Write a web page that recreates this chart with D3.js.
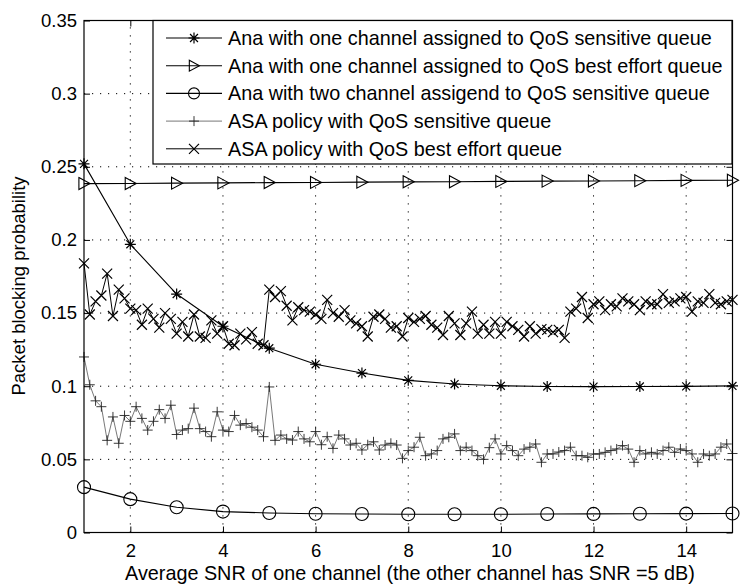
<!DOCTYPE html>
<html>
<head>
<meta charset="utf-8">
<script src="https://cdn.jsdelivr.net/npm/d3@7"></script>
<style>
  body { margin: 0; background: #fff; }
  text { font-family: "Liberation Sans", Arial, Helvetica, sans-serif; fill: #000; }
</style>
</head>
<body>
<svg id="chart" width="740" height="585"></svg>
<script>
// ---- Analytic results, one value per integer SNR (dB) ----
const snrAnalytic = [1, 2, 3, 4, 5, 6, 7, 8, 9, 10, 11, 12, 13, 14, 15];
const anaOneSensitive = [0.252, 0.197, 0.163, 0.141, 0.126, 0.115, 0.109, 0.104, 0.1015, 0.1003, 0.0998, 0.0997, 0.0998, 0.0999, 0.1002];
const anaOneBestEffort = [0.2385, 0.2386, 0.2388, 0.2390, 0.2392, 0.2393, 0.2395, 0.2397, 0.2398, 0.2400, 0.2402, 0.2403, 0.2405, 0.2407, 0.2408];
const anaTwoSensitive = [0.031, 0.0228, 0.0173, 0.0143, 0.0133, 0.0128, 0.0126, 0.0125, 0.0125, 0.0125, 0.0126, 0.0127, 0.0128, 0.0129, 0.013];

// ---- Simulated ASA policy, SNR from 1 dB in steps of 0.125 dB ----
const asaStart = 1;
const asaStep = 0.125;
const asaSensitive = [
  0.120, 0.101, 0.090, 0.086, 0.063, 0.079, 0.061, 0.080,
  0.076, 0.086, 0.078, 0.070, 0.076, 0.084, 0.078, 0.087,
  0.067, 0.070, 0.071, 0.085, 0.071, 0.069, 0.0655, 0.0825,
  0.070, 0.069, 0.080, 0.0734, 0.0745, 0.072, 0.070, 0.0655,
  0.0995, 0.063, 0.0666, 0.064, 0.0632, 0.069, 0.064, 0.062,
  0.069, 0.060, 0.0655, 0.0575, 0.0666, 0.064, 0.0598, 0.061,
  0.0564, 0.060, 0.062, 0.0564, 0.0598, 0.061, 0.0598, 0.0507,
  0.056, 0.0583, 0.0651, 0.0525, 0.0537, 0.056, 0.064, 0.0651,
  0.0674, 0.056, 0.0583, 0.056, 0.0525, 0.050, 0.058, 0.064,
  0.0537, 0.0594, 0.056, 0.0525, 0.057, 0.0583, 0.0605, 0.048,
  0.0537, 0.0537, 0.055, 0.056, 0.0583, 0.0525, 0.0525, 0.0514,
  0.0537, 0.0537, 0.0548, 0.056, 0.0571, 0.0594, 0.057, 0.048,
  0.056, 0.0537, 0.0548, 0.0537, 0.056, 0.0583, 0.0548, 0.0571,
  0.056, 0.0537, 0.048, 0.0537, 0.0525, 0.0537, 0.0583, 0.0605,
  0.054
];
const asaBestEffort = [
  0.184, 0.149, 0.158, 0.162, 0.177, 0.148, 0.166, 0.160,
  0.153, 0.152, 0.142, 0.153, 0.146, 0.140, 0.150, 0.146,
  0.136, 0.144, 0.134, 0.149, 0.134, 0.133, 0.145, 0.136,
  0.141, 0.129, 0.128, 0.136, 0.132, 0.137, 0.129, 0.128,
  0.166, 0.161, 0.165, 0.155, 0.145, 0.154, 0.152, 0.151,
  0.149, 0.146, 0.159, 0.150, 0.1475, 0.152, 0.145, 0.143,
  0.141, 0.134, 0.1475, 0.149, 0.146, 0.140, 0.141, 0.134,
  0.1466, 0.144, 0.146, 0.148, 0.142, 0.140, 0.135, 0.148,
  0.143, 0.135, 0.143, 0.151, 0.136, 0.142, 0.136, 0.144,
  0.136, 0.144, 0.141, 0.1385, 0.134, 0.141, 0.136, 0.139,
  0.1385, 0.137, 0.1385, 0.133, 0.151, 0.153, 0.161, 0.1466,
  0.156, 0.158, 0.152, 0.156, 0.1546, 0.160, 0.158, 0.156,
  0.152, 0.158, 0.156, 0.156, 0.163, 0.157, 0.158, 0.160,
  0.161, 0.151, 0.158, 0.157, 0.163, 0.157, 0.156, 0.158,
  0.159
];

// ---- Axis ticks and labels ----
const xTicks = [2, 4, 6, 8, 10, 12, 14];
const yTicks = [0, 0.05, 0.1, 0.15, 0.2, 0.25, 0.3, 0.35];
const yTickLabels = ["0", "0.05", "0.1", "0.15", "0.2", "0.25", "0.3", "0.35"];
const xTitle = "Average SNR of one channel (the other channel has SNR =5 dB)";
const yTitle = "Packet blocking probability";
const legendLabels = [
  "Ana with one channel assigned to QoS sensitive queue",
  "Ana with one channel assigned to QoS best effort queue",
  "Ana with two channel assigend to QoS sensitive queue",
  "ASA policy with QoS sensitive queue",
  "ASA policy with QoS best effort queue"
];

// ---- Layout ----
const plot = { left: 84, right: 732.5, top: 20.5, bottom: 532.5 };
const svg = d3.select("#chart");

const x = d3.scaleLinear().domain([1, 15]).range([plot.left, plot.right]);
const y = d3.scaleLinear().domain([0, 0.35]).range([plot.bottom, plot.top]);

// Marker shapes (unfilled, centred on 0,0)
const markerPath = {
  star: r => { const d = r * 0.72; return `M${-r},0H${r}M0,${-r}V${r}M${-d},${-d}L${d},${d}M${-d},${d}L${d},${-d}`; },
  triangle: r => `M${-r * 0.85},${-r}L${r},0L${-r * 0.85},${r}Z`,
  cross: r => `M${-r},${-r}L${r},${r}M${-r},${r}L${r},${-r}`,
  plus: r => `M${-r},0H${r}M0,${-r}V${r}`
};

// Build series records
const asaX = asaSensitive.map((_, i) => asaStart + i * asaStep);
const series = [
  { label: legendLabels[0], xs: snrAnalytic, ys: anaOneSensitive, marker: "star", size: 5.5, stroke: "#000", mstroke: "#000", lw: 1.1, mw: 1.2 },
  { label: legendLabels[1], xs: snrAnalytic, ys: anaOneBestEffort, marker: "triangle", size: 6, stroke: "#000", mstroke: "#000", lw: 1.1, mw: 1.1 },
  { label: legendLabels[2], xs: snrAnalytic, ys: anaTwoSensitive, marker: "circle", size: 6.5, stroke: "#000", mstroke: "#000", lw: 1.1, mw: 1.1 },
  { label: legendLabels[3], xs: asaX, ys: asaSensitive, marker: "plus", size: 5, stroke: "#555", mstroke: "#222", lw: 0.8, mw: 0.9 },
  { label: legendLabels[4], xs: asaX, ys: asaBestEffort, marker: "cross", size: 5, stroke: "#000", mstroke: "#000", lw: 1, mw: 1.2 }
];

// ---- Grid (dotted) ----
const grid = svg.append("g").attr("stroke", "#000").attr("stroke-width", 1)
  .attr("stroke-dasharray", "1.2,6.8");
grid.selectAll("line.gx").data(xTicks).join("line")
  .attr("x1", d => x(d)).attr("x2", d => x(d))
  .attr("y1", plot.bottom).attr("y2", plot.top);
grid.selectAll("line.gy").data(yTicks.filter(v => v > 0 && v < 0.35)).join("line")
  .attr("x1", plot.left).attr("x2", plot.right)
  .attr("y1", d => y(d)).attr("y2", d => y(d));

// ---- Data ----
const lineGen = d3.line().x(d => x(d[0])).y(d => y(d[1]));
function drawMarker(sel, s) {
  if (s.marker === "circle") {
    sel.append("circle").attr("r", s.size).attr("fill", "none")
      .attr("stroke", s.mstroke).attr("stroke-width", s.mw);
  } else {
    sel.append("path").attr("d", markerPath[s.marker](s.size)).attr("fill", "none")
      .attr("stroke", s.mstroke).attr("stroke-width", s.mw);
  }
}
const dataG = svg.append("g");
series.forEach(s => {
  const pts = s.xs.map((v, i) => [v, s.ys[i]]);
  dataG.append("path").datum(pts).attr("d", lineGen)
    .attr("fill", "none").attr("stroke", s.stroke).attr("stroke-width", s.lw)
    .attr("stroke-linejoin", "round");
  dataG.append("g").selectAll("g").data(pts).join("g")
    .attr("transform", d => `translate(${x(d[0])},${y(d[1])})`)
    .each(function () { drawMarker(d3.select(this), s); });
});

// ---- Axes (box with inward ticks) ----
const tickLen = 6;
const axB = svg.append("g").attr("transform", `translate(0,${plot.bottom})`)
  .call(d3.axisBottom(x).tickValues(xTicks).tickSize(-tickLen).tickPadding(11).tickFormat(d3.format("d")));
const axT = svg.append("g").attr("transform", `translate(0,${plot.top})`)
  .call(d3.axisTop(x).tickValues(xTicks).tickSize(-tickLen).tickFormat(""));
const axL = svg.append("g").attr("transform", `translate(${plot.left},0)`)
  .call(d3.axisLeft(y).tickValues(yTicks).tickSize(-tickLen).tickPadding(7).tickFormat((d, i) => yTickLabels[i]));
const axR = svg.append("g").attr("transform", `translate(${plot.right},0)`)
  .call(d3.axisRight(y).tickValues(yTicks).tickSize(-tickLen).tickFormat(""));
[axB, axT, axL, axR].forEach(a => {
  a.select(".domain").remove();
  a.selectAll(".tick line").attr("stroke", "#000").attr("stroke-width", 1);
  a.selectAll(".tick text").style("font-size", "18.5px").attr("fill", "#000");
});
svg.append("rect")
  .attr("x", plot.left).attr("y", plot.top)
  .attr("width", plot.right - plot.left).attr("height", plot.bottom - plot.top)
  .attr("fill", "none").attr("stroke", "#000").attr("stroke-width", 1.2);

// ---- Axis titles ----
svg.append("text").attr("x", 410).attr("y", 580)
  .attr("text-anchor", "middle").style("font-size", "19.8px").text(xTitle);
svg.append("text").attr("transform", `translate(25,286) rotate(-90)`)
  .attr("text-anchor", "middle").style("font-size", "18.5px").text(yTitle);

// ---- Legend ----
const legend = { left: 153, right: 732, top: 20.5, bottom: 164, rowStart: 38, rowGap: 27.7 };
const lg = svg.append("g");
lg.append("rect").attr("x", legend.left).attr("y", legend.top)
  .attr("width", legend.right - legend.left).attr("height", legend.bottom - legend.top)
  .attr("fill", "#fff").attr("stroke", "#000").attr("stroke-width", 1.2);
series.forEach((s, i) => {
  const cy = legend.rowStart + i * legend.rowGap;
  const row = lg.append("g");
  row.append("line").attr("x1", 166).attr("x2", 222).attr("y1", cy).attr("y2", cy)
    .attr("stroke", s.stroke).attr("stroke-width", s.lw);
  const m = row.append("g").attr("transform", `translate(194,${cy})`);
  drawMarker(m, Object.assign({}, s, { size: Math.min(s.size, 5.5) }));
  row.append("text").attr("x", 228).attr("y", cy + 7).style("font-size", "19.8px").text(s.label);
});
</script>
</body>
</html>
